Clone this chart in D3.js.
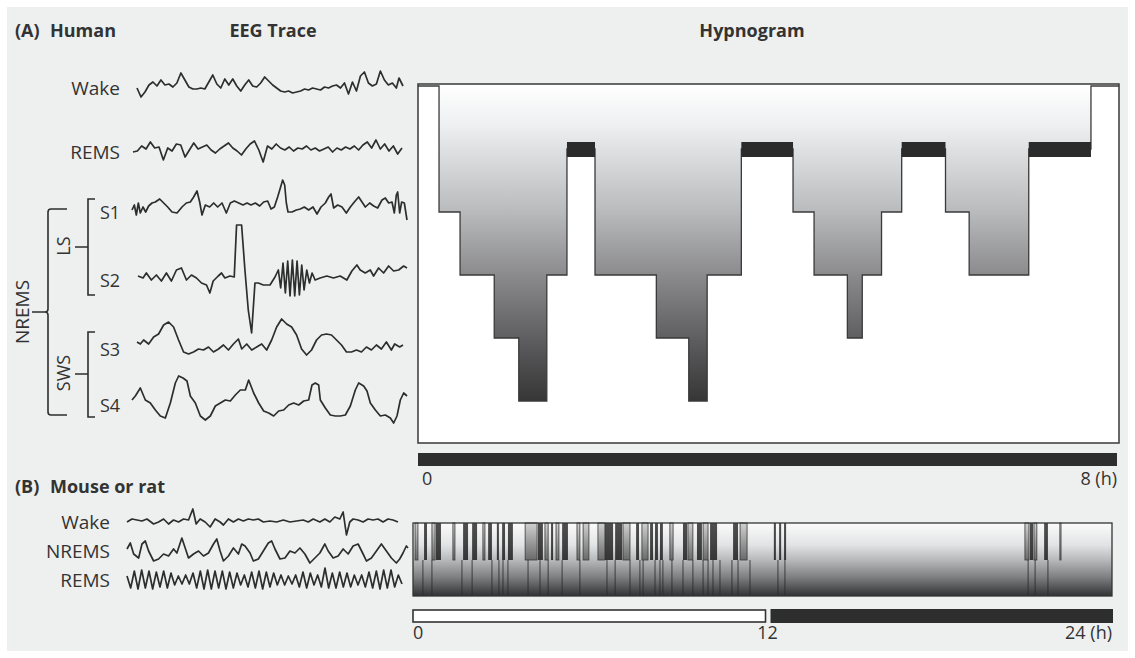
<!DOCTYPE html>
<html><head><meta charset="utf-8">
<script src="https://cdn.jsdelivr.net/npm/d3@7"></script>
<style>
body{margin:0;background:#fff}
svg{display:block;font-family:'Open Sans',sans-serif}
</style>
</head><body>
<svg id="fig" width="1135" height="658"></svg>
<script>
// ---------- data ----------
// Human night: stage entered at each time (h); final entry closes the record
const stageOrder = ["Wake", "REMS", "S1", "S2", "S3", "S4"];
const humanTimes = [0, 0.24, 0.48, 0.87, 1.15, 1.47, 1.70, 2.02, 2.72, 3.09, 3.30, 3.69, 4.28, 4.52, 4.90, 5.07, 5.29, 5.52, 6.02, 6.29, 6.97, 7.68, 8];
const humanStages = ["Wake", "S1", "S2", "S3", "S4", "S2", "REMS", "S2", "S3", "S4", "S2", "REMS", "S1", "S2", "S3", "S2", "S1", "REMS", "S1", "S2", "REMS", "Wake", "Wake"];
const humanTicks = ["0", "8 (h)"];

// Rodent 24 h record (h): consolidated sleep bouts, brief bouts, REM episodes
const sleepBoutsDeep = [[0.38, 0.48], [0.79, 0.96], [1.72, 1.89], [2.03, 2.20], [2.58, 2.71], [2.88, 2.95], [3.06, 3.16], [3.26, 3.43], [4.29, 4.46], [4.74, 4.81], [5.12, 5.32], [6.59, 6.87], [6.94, 7.18], [7.66, 7.76], [8.14, 8.24], [8.31, 8.41], [8.48, 8.58], [9.27, 9.41], [9.75, 9.92], [10.20, 10.44], [10.99, 11.16], [12.39, 12.46], [12.57, 12.64], [12.74, 12.81], [21.18, 21.29], [21.67, 21.80]];
const sleepBoutsBrief = [[0.07, 0.17], [0.65, 0.76], [1.37, 1.44], [2.40, 2.47], [3.85, 4.26], [4.53, 4.64], [4.91, 5.01], [5.63, 5.73], [5.84, 6.04], [6.35, 6.59], [7.21, 7.45], [7.86, 8.07], [8.82, 8.93], [9.44, 9.61], [9.96, 10.13], [11.23, 11.47], [21.01, 21.15], [21.32, 21.42], [22.21, 22.25]];
const remEpisodes = [0.34, 0.65, 1.68, 2.03, 2.71, 2.95, 3.09, 3.26, 3.95, 4.36, 4.64, 5.12, 5.73, 6.66, 6.94, 7.45, 7.79, 7.90, 8.31, 8.48, 8.58, 8.89, 9.27, 9.61, 9.96, 10.13, 10.30, 10.54, 10.95, 11.16, 11.57, 12.53, 12.77, 21.12, 21.36, 21.80];
const lightPhase = [0, 12];
const darkPhase = [12, 24];
const rodentTicks = ["0", "12", "24 (h)"];

// EEG samples: [time (ms), amplitude (a.u.)]
const humanWake = [[0,0],[12,-9],[24,-4],[36,3],[48,6],[60,2],[72,8],[84,3],[96,4],[108,1],[120,5],[132,15],[144,8],[156,1],[168,-1],[180,-1],[192,0],[204,-1],[216,6],[228,13],[240,4],[252,0],[264,9],[276,3],[288,9],[300,2],[312,-3],[324,3],[336,8],[348,2],[360,1],[372,5],[384,11],[396,7],[408,3],[420,0],[432,-3],[444,-4],[456,-3],[468,-5],[480,-4],[492,-3],[504,-1],[516,-2],[528,0],[540,-1],[552,-2],[564,1],[576,0],[588,2],[600,3],[612,0],[624,5],[636,-6],[648,6],[660,-3],[672,12],[684,16],[696,5],[708,2],[720,4],[732,17],[744,8],[756,3],[768,5],[780,0],[788,10],[800,2]];
const humanREMS = [[0,0],[13,1],[26,6],[39,3],[52,10],[65,4],[78,5],[91,-8],[104,4],[117,1],[130,8],[143,7],[156,-5],[169,2],[182,9],[195,3],[208,5],[221,7],[234,2],[247,-1],[260,3],[273,6],[286,9],[299,4],[312,1],[325,-3],[338,3],[351,8],[364,11],[377,2],[390,-10],[403,6],[416,3],[429,8],[442,4],[455,2],[468,5],[481,1],[494,4],[507,3],[520,6],[533,2],[546,4],[559,1],[572,3],[585,5],[598,0],[611,4],[624,2],[637,5],[650,3],[663,6],[676,2],[689,7],[702,10],[715,4],[728,12],[741,3],[754,8],[767,1],[780,6],[793,-2],[806,4]];
const humanS1 = [[0,0],[7,5],[13,-5],[19,7],[25,-3],[33,3],[41,-2],[50,4],[60,7],[70,8],[83,11],[95,7],[107,3],[120,-2],[135,-3],[150,3],[163,7],[175,8],[185,13],[195,19],[203,8],[210,-5],[220,5],[233,3],[245,7],[257,3],[270,7],[283,-3],[295,7],[307,9],[320,7],[333,5],[345,7],[357,5],[370,7],[383,4],[395,8],[407,9],[417,1],[427,3],[437,13],[445,22],[452,30],[458,25],[463,7],[468,-2],[480,-2],[493,0],[505,1],[517,3],[530,0],[543,3],[555,-4],[567,3],[580,7],[590,13],[597,16],[605,2],[617,5],[630,3],[643,-3],[655,3],[667,8],[680,13],[690,8],[700,3],[713,7],[725,4],[737,2],[750,10],[760,12],[770,7],[780,8],[787,-3],[793,15],[797,18],[803,-3],[809,8],[817,7],[825,-10]];
const humanS2 = [[0,2],[15,0],[25,5],[40,-2],[55,3],[70,-3],[85,5],[100,-3],[115,8],[130,10],[145,-2],[160,3],[175,0],[190,-5],[205,-7],[215,-15],[225,-3],[240,2],[250,5],[260,0],[275,2],[288,1],[295,53],[310,53],[320,8],[330,-32],[340,-55],[350,-5],[360,-5],[375,-7],[395,-7],[410,1],[420,8],[427,-10],[434,15],[441,-15],[448,17],[455,-18],[462,18],[469,-18],[476,17],[483,-17],[490,13],[497,-12],[505,8],[513,-5],[521,5],[530,-2],[545,0],[565,2],[585,0],[605,2],[625,-2],[640,7],[655,13],[665,8],[680,5],[695,8],[705,2],[720,10],[735,5],[750,12],[765,7],[780,8],[795,12],[805,10]];
const humanS3 = [[0,5],[10,3],[20,7],[35,3],[50,10],[65,13],[80,22],[95,25],[110,20],[125,7],[140,-5],[155,-7],[170,-5],[185,-2],[200,-3],[215,0],[230,-5],[245,-2],[260,2],[275,-3],[290,3],[305,8],[315,-2],[330,3],[345,-3],[360,0],[375,3],[390,-3],[405,7],[420,20],[435,28],[450,23],[465,20],[480,12],[495,-2],[510,-8],[525,-3],[540,7],[555,12],[570,13],[585,12],[600,7],[615,2],[630,-5],[645,-5],[660,-3],[675,-5],[690,0],[705,-3],[720,2],[735,-2],[750,5],[765,-3],[775,3],[790,0],[800,2]];
const humanS4 = [[0,3],[10,7],[25,15],[40,3],[55,0],[70,-7],[85,-13],[100,-15],[115,0],[130,20],[140,27],[153,25],[165,22],[175,7],[190,0],[205,-13],[220,-17],[235,-13],[250,-3],[265,0],[280,3],[295,2],[310,8],[325,13],[340,13],[350,23],[365,10],[380,0],[395,-8],[410,-10],[425,-13],[440,-8],[455,-7],[470,-2],[485,0],[500,-2],[515,2],[530,3],[540,18],[550,20],[560,18],[565,3],[580,-5],[595,-12],[610,-13],[625,-13],[640,-12],[655,-3],[670,13],[680,20],[695,17],[705,12],[715,0],[730,-7],[745,-13],[760,-12],[775,-15],[785,-20],[795,-13],[805,3],[815,10],[825,7]];
const rodentWake = [[0,0],[15,3],[30,2],[45,1],[60,3],[80,-2],[95,0],[110,3],[125,-2],[140,2],[155,0],[170,3],[185,2],[198,13],[208,-2],[220,3],[235,0],[250,-5],[265,3],[280,0],[290,-3],[305,3],[320,0],[335,3],[350,1],[365,3],[380,2],[395,3],[410,0],[430,1],[450,0],[470,2],[490,0],[510,1],[530,2],[545,0],[560,3],[580,0],[595,3],[610,0],[625,5],[640,3],[650,10],[660,-13],[670,0],[680,3],[695,2],[710,0],[725,3],[740,2],[755,3],[770,0],[785,3],[800,2],[815,0]];
const rodentNREMS = [[0,2],[10,8],[20,-3],[35,-7],[45,7],[55,10],[65,0],[80,-10],[95,-8],[110,-3],[125,-5],[140,2],[150,-2],[165,13],[175,3],[185,-7],[200,-3],[215,0],[230,-5],[245,-2],[260,7],[270,12],[280,0],[290,-10],[305,-5],[320,3],[335,-3],[345,7],[355,5],[370,-2],[380,-10],[395,-8],[410,0],[425,8],[435,10],[445,2],[460,-8],[475,-7],[490,0],[505,-2],[520,3],[535,-3],[550,-12],[565,-7],[580,-2],[595,7],[605,0],[620,-7],[635,-5],[650,2],[665,-3],[680,5],[695,7],[710,-3],[720,-10],[735,-7],[750,0],[765,7],[780,0],[795,-7],[810,-12],[820,-8],[830,-2],[840,5],[845,3]];
const rodentREMS = [[0,4],[11,-8],[22,9],[33,-9],[44,10],[55,-8],[66,9],[77,-9],[88,8],[99,-7],[110,9],[121,-8],[132,7],[143,-5],[154,4],[165,-4],[176,5],[187,-4],[198,7],[209,-8],[220,9],[231,-9],[242,10],[253,-9],[264,9],[275,-8],[286,9],[297,-9],[308,8],[319,-8],[330,7],[341,-5],[352,5],[363,-7],[374,8],[385,-8],[396,9],[407,-9],[418,8],[429,-7],[440,7],[451,-5],[462,5],[473,-5],[484,4],[495,-4],[506,5],[517,-7],[528,8],[539,-8],[550,7],[561,-5],[572,5],[583,-7],[594,12],[605,-8],[616,7],[627,-8],[638,8],[649,-7],[660,7],[671,-7],[682,5],[693,-5],[704,5],[715,-7],[726,8],[737,-8],[748,9],[759,-9],[770,10],[781,-8],[792,10],[803,-7],[814,5],[825,-4]];

// ---------- drawing ----------
const svg = d3.select("#fig");
const ink = "#2d2d2d";
const defs = svg.append("defs");

svg.append("rect").attr("x", 7).attr("y", 7).attr("width", 1121).attr("height", 644).attr("fill", "#eef0f0");

function gradient(id, y1, y2, stops) {
  const g = defs.append("linearGradient").attr("id", id)
    .attr("gradientUnits", "userSpaceOnUse").attr("x1", 0).attr("x2", 0).attr("y1", y1).attr("y2", y2);
  stops.forEach(([o, c]) => g.append("stop").attr("offset", o).attr("stop-color", c));
}

function label(x, y, txt, opts = {}) {
  const t = svg.append("text").attr("x", x).attr("y", y).text(txt)
    .attr("fill", "#333").attr("font-size", opts.size || 19)
    .attr("font-weight", opts.bold ? 700 : 400)
    .attr("text-anchor", opts.anchor || "start");
  if (opts.rotate) t.attr("transform", `rotate(-90,${x},${y})`).attr("dominant-baseline", "central").attr("text-anchor", "middle");
  return t;
}

function drawTrace(data, x0, x1, base) {
  const tx = d3.scaleLinear().domain(d3.extent(data, d => d[0])).range([x0, x1]);
  const ty = d3.scaleLinear().domain([-10, 10]).range([base + 10, base - 10]);
  svg.append("path")
    .attr("d", d3.line().x(d => tx(d[0])).y(d => ty(d[1]))(data))
    .attr("fill", "none").attr("stroke", ink).attr("stroke-width", 1.7)
    .attr("stroke-linejoin", "round");
}

// headings
label(15, 37, "(A)", { bold: true, size: 18 });
label(50, 37, "Human", { bold: true, size: 18 });
label(273, 37, "EEG Trace", { bold: true, size: 18, anchor: "middle" });
label(752, 37, "Hypnogram", { bold: true, size: 18, anchor: "middle" });
label(15, 493, "(B)", { bold: true, size: 18 });
label(50, 493, "Mouse or rat", { bold: true, size: 18 });

// human EEG rows
const humanRows = [
  { name: "Wake", data: humanWake, x0: 137, x1: 403, base: 88 },
  { name: "REMS", data: humanREMS, x0: 133, x1: 402, base: 152 },
  { name: "S1", data: humanS1, x0: 132, x1: 407, base: 210 },
  { name: "S2", data: humanS2, x0: 138, x1: 407, base: 278 },
  { name: "S3", data: humanS3, x0: 137, x1: 403, base: 347 },
  { name: "S4", data: humanS4, x0: 132, x1: 407, base: 403 }
];
humanRows.forEach(r => {
  drawTrace(r.data, r.x0, r.x1, r.base);
  if (r.name.startsWith("S")) label(100, r.base + 9, r.name, { size: 18 });
  else label(120, r.base + 7, r.name, { anchor: "end" });
});

// stage brackets
const br = svg.append("g").attr("fill", "none").attr("stroke", ink).attr("stroke-width", 1.6);
br.append("path").attr("d", "M67,209 H51 Q48,209 48,212 V309 Q48,312 45,312 H32 M45,312 Q48,312 48,315 V412 Q48,415 51,415 H67");
br.append("path").attr("d", "M95,199 H88 V295 H95 M75,247 H88");
br.append("path").attr("d", "M95,332 H88 V417 H95 M75,374 H88");
label(22, 312, "NREMS", { rotate: true, size: 19 });
label(63, 246, "LS", { rotate: true, size: 18 });
label(63, 373, "SWS", { rotate: true, size: 18 });

// human hypnogram
const hx = d3.scaleLinear().domain([0, 8]).range([418, 1119]);
const hy = d3.scalePoint().domain(stageOrder).range([86, 401]);
const hyp = humanTimes.map((t, i) => ({ t, s: humanStages[i] }));
gradient("hgrad", hy("Wake"), hy("S4"), [[0, "#ffffff"], [0.12, "#eef0f1"], [0.4, "#b9babc"], [0.62, "#868688"], [0.85, "#545456"], [1, "#363636"]]);

svg.append("rect").attr("x", hx(0)).attr("y", 84).attr("width", hx(8) - hx(0)).attr("height", 359)
  .attr("fill", "#fff").attr("stroke", "#444").attr("stroke-width", 1.6);
svg.append("path")
  .attr("d", d3.area().curve(d3.curveStepAfter).x(d => hx(d.t)).y0(hy("Wake")).y1(d => hy(d.s))(hyp))
  .attr("fill", "url(#hgrad)");
svg.append("path")
  .attr("d", d3.line().curve(d3.curveStepAfter).x(d => hx(d.t)).y(d => hy(d.s))(hyp))
  .attr("fill", "none").attr("stroke", "#3a3a3a").attr("stroke-width", 1.3);
svg.selectAll("rect.rem").data(hyp.slice(0, -1).map((d, i) => ({ a: d.t, b: hyp[i + 1].t, s: d.s })).filter(d => d.s === "REMS"))
  .join("rect").attr("class", "rem")
  .attr("x", d => hx(d.a)).attr("width", d => hx(d.b) - hx(d.a))
  .attr("y", hy("REMS") - 7).attr("height", 15).attr("fill", "#2b2b2b");
svg.append("rect").attr("x", hx(0)).attr("y", 453).attr("width", hx(8) - hx(0) - 2).attr("height", 13).attr("fill", "#2e2e2e");
label(hx(0) + 4, 485, humanTicks[0], { size: 18 });
label(hx(8) - 2, 485, humanTicks[1], { size: 18, anchor: "end" });

// rodent EEG rows
const rodentRows = [
  { name: "Wake", data: rodentWake, x0: 127, x1: 398, base: 522 },
  { name: "NREMS", data: rodentNREMS, x0: 127, x1: 408, base: 551 },
  { name: "REMS", data: rodentREMS, x0: 127, x1: 402, base: 580 }
];
rodentRows.forEach(r => {
  drawTrace(r.data, r.x0, r.x1, r.base);
  label(110, r.base + 7, r.name, { anchor: "end" });
});

// rodent hypnogram
const bx = d3.scaleLinear().domain([0, 24]).range([413, 1112]);
const bTop = 523, bMid = 560, bBot = 596;
gradient("bgrad", bTop, bBot, [[0, "#fbfbfb"], [0.3, "#e2e3e4"], [0.5, "#b9babb"], [0.75, "#7c7d7f"], [1, "#303234"]]);
gradient("deep", bTop, bMid, [[0, "#3c3c3c"], [1, "#262626"]]);
gradient("brief", bTop, bMid, [[0, "#d0d0d0"], [1, "#6a6a6a"]]);
svg.append("rect").attr("x", bx(0)).attr("y", bTop).attr("width", bx(24) - bx(0)).attr("height", bBot - bTop).attr("fill", "url(#bgrad)");
svg.append("g").selectAll("rect").data(sleepBoutsBrief).join("rect")
  .attr("x", d => bx(d[0])).attr("width", d => Math.max(1, bx(d[1]) - bx(d[0])))
  .attr("y", bTop).attr("height", bMid - bTop)
  .attr("fill", "url(#brief)").attr("stroke", "#3a3a3a").attr("stroke-width", 0.8);
svg.append("g").selectAll("rect").data(sleepBoutsDeep).join("rect")
  .attr("x", d => bx(d[0])).attr("width", d => bx(d[1]) - bx(d[0]))
  .attr("y", bTop).attr("height", bMid - bTop)
  .attr("fill", "url(#deep)").attr("opacity", 0.9);
svg.append("g").selectAll("line").data(remEpisodes).join("line")
  .attr("x1", d => bx(d)).attr("x2", d => bx(d)).attr("y1", bMid).attr("y2", bBot)
  .attr("stroke", "#2a2a2a").attr("stroke-width", 1.1).attr("opacity", 0.75);
svg.append("rect").attr("x", bx(0)).attr("y", bTop).attr("width", bx(24) - bx(0)).attr("height", bBot - bTop)
  .attr("fill", "none").attr("stroke", "#333").attr("stroke-width", 1.3);

svg.append("rect").attr("x", bx(lightPhase[0])).attr("y", 610).attr("width", bx(lightPhase[1]) - bx(lightPhase[0]) + 3).attr("height", 12)
  .attr("fill", "#fff").attr("stroke", "#333").attr("stroke-width", 1.6);
svg.append("rect").attr("x", bx(darkPhase[0]) + 8).attr("y", 609).attr("width", bx(darkPhase[1]) - bx(darkPhase[0]) - 7).attr("height", 14)
  .attr("fill", "#2e2e2e");
label(bx(0), 639, rodentTicks[0], { size: 18 });
label(bx(12) + 5, 639, rodentTicks[1], { size: 18, anchor: "middle" });
label(bx(24), 639, rodentTicks[2], { size: 18, anchor: "end" });
</script>
</body></html>
